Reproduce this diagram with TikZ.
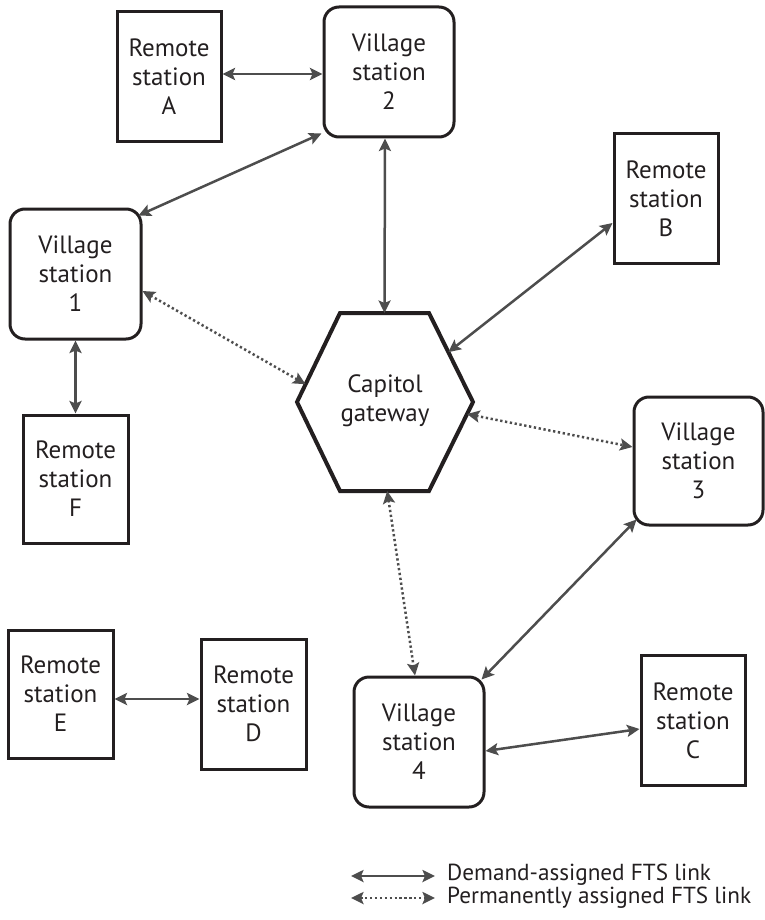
\documentclass[tikz,border=0pt]{standalone}
\usepackage{fontspec}
\setmainfont{PT Sans}
\usetikzlibrary{arrows.meta,calc}
\definecolor{ink}{HTML}{231F20}
\definecolor{arr}{HTML}{4D4D4D}
\begin{document}
\begin{tikzpicture}[x=1pt,y=-1pt,
  lbl/.style={font=\fontsize{25}{29}\selectfont, text=ink, align=center, inner sep=0pt},
  leg/.style={lbl, font=\fontsize{23.2}{28}\selectfont, anchor=west},
  boxbase/.style={lbl, draw=ink, line width=3pt, minimum width=104pt, minimum height=130pt},
  remote/.style={boxbase},
  village/.style={boxbase, rounded corners=15pt, minimum width=130pt},
  hexline/.style={draw=ink, line width=4pt, line join=miter},
  tip/.tip={Stealth[length=12.5pt,width=12pt,inset=2.5pt]},
  dem/.style={draw=arr, line width=2.5pt, {tip}-{tip}},
  perm/.style={dem, dash pattern=on 2.3pt off 2.6pt}
]
\useasboundingbox (0,0) rectangle (764,920);

% stations
\node[remote] (A) at (169,76.5) {Remote\\station\\A};
\node[village] (V2) at (389,72) {Village\\station\\2};
\node[remote] (B) at (666,198.5) {Remote\\station\\B};
\node[village, minimum width=131pt] (V1) at (75.5,274) {Village\\station\\1};
\node[remote, minimum width=105pt, minimum height=128pt] (F) at (75.5,479) {Remote\\station\\F};
\node[village, minimum width=129pt, minimum height=128pt] (V3) at (698.5,461) {Village\\station\\3};
\node[remote, minimum width=105pt, minimum height=128pt] (E) at (60.5,694) {Remote\\station\\E};
\node[remote, minimum width=105pt] (D) at (253.5,704) {Remote\\station\\D};
\node[village] (V4) at (419,742) {Village\\station\\4};
\node[remote] (C) at (693,720.5) {Remote\\station\\C};

% gateway hexagon
\node[lbl] (gw) at (385,401) {Capitol\\gateway};
\coordinate (hL) at (297,402);
\coordinate (hTL) at (340,313);
\coordinate (hTR) at (429,313);
\coordinate (hR) at (473,402);
\coordinate (hBR) at (429,491);
\coordinate (hBL) at (340,491);
\draw[hexline] (hL) -- (hTL) -- (hTR) -- (hR) -- (hBR) -- (hBL) -- cycle;

% demand-assigned links
\draw[dem] ($(A.east)+(0,-2.5)$) -- ($(V2.west)+(0,2)$);
\draw[dem] ($(V2.south west)+(-1,-5)$) -- ($(V1.north east)+(-4,8)$);
\draw[dem] ($(V2.south)+(-4,0)$) -- ($(hTL)!0.5!(hTR)$);
\draw[dem] ($(B.west)+(0,24.5)$) -- ($(hTR)!0.44!(hR)$);
\draw[dem] (V1.south) -- (F.north);
\draw[dem] ($(V3.south west)+(4,-7)$) -- ($(V4.north east)+(-4,4)$);
\draw[dem] ($(V4.east)+(0,9)$) -- ($(C.west)+(0,8.5)$);
\draw[dem] ($(E.east)+(0,5)$) -- ($(D.west)+(0,-5)$);

% permanently assigned links
\draw[perm] ($(V1.east)+(0,17)$) -- ($(hTL)!0.8!(hL)$);
\draw[perm] ($(hR)!0.135!(hBR)$) -- ($(V3.west)+(0,-14)$);
\draw[perm] ($(hBL)!0.53!(hBR)$) -- ($(V4.north)+(-4,0)$);

% legend
\coordinate (l1a) at (351,876);
\coordinate (l1b) at (435,876);
\coordinate (l2a) at (351,898);
\coordinate (l2b) at (435,898);
\draw[dem] (l1a) -- (l1b);
\draw[perm] (l2a) -- (l2b);
\node[leg] (L1) at (447,875) {Demand-assigned FTS link};
\node[leg] (L2) at (447,898) {Permanently assigned FTS link};
\end{tikzpicture}
\end{document}
